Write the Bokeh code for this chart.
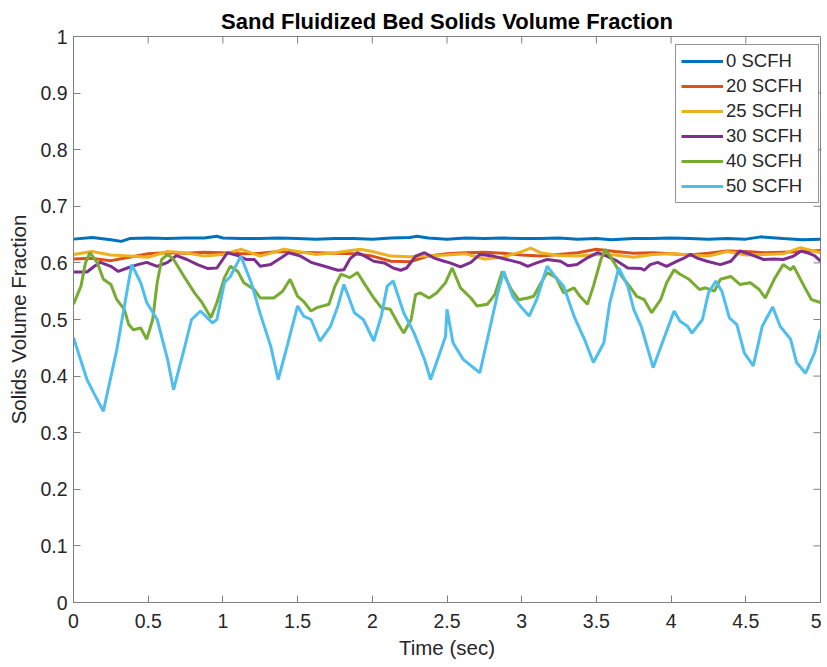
import math
from bokeh.plotting import figure
from bokeh.models import Range1d, FixedTicker, Legend, LegendItem
from bokeh.embed import file_html
from bokeh.resources import INLINE

# ---------------- data ----------------
t0 = [0.0, 0.125, 0.25, 0.32, 0.375, 0.5, 0.625, 0.75, 0.875, 0.96, 1.0, 1.125, 1.25, 1.375,
      1.5, 1.625, 1.75, 1.875, 2.0, 2.125, 2.25, 2.3, 2.375, 2.5, 2.625, 2.75, 2.875, 3.0,
      3.125, 3.25, 3.375, 3.5, 3.6, 3.75, 3.875, 4.0, 4.125, 4.25, 4.375, 4.5, 4.6, 4.75,
      4.875, 5.0]
v0 = [0.642, 0.645, 0.641, 0.638, 0.643, 0.644, 0.643, 0.644, 0.644, 0.647, 0.644, 0.643,
      0.643, 0.644, 0.643, 0.642, 0.643, 0.643, 0.642, 0.644, 0.645, 0.647, 0.644, 0.642,
      0.644, 0.643, 0.644, 0.643, 0.643, 0.644, 0.642, 0.643, 0.641, 0.643, 0.643, 0.644,
      0.643, 0.642, 0.643, 0.642, 0.646, 0.643, 0.641, 0.642]

t20 = [0.0, 0.125, 0.25, 0.375, 0.5, 0.625, 0.75, 0.875, 1.0, 1.125, 1.25, 1.375, 1.5,
       1.625, 1.75, 1.875, 2.0, 2.125, 2.25, 2.375, 2.5, 2.625, 2.75, 2.875, 3.0, 3.125,
       3.25, 3.375, 3.5, 3.625, 3.75, 3.875, 4.0, 4.125, 4.25, 4.375, 4.5, 4.625, 4.75,
       4.875, 5.0]
v20 = [0.607, 0.608, 0.604, 0.610, 0.616, 0.618, 0.617, 0.619, 0.618, 0.616, 0.617, 0.620,
       0.619, 0.618, 0.617, 0.616, 0.612, 0.603, 0.602, 0.612, 0.616, 0.618, 0.619, 0.617,
       0.614, 0.612, 0.615, 0.618, 0.624, 0.620, 0.617, 0.618, 0.616, 0.614, 0.617, 0.621,
       0.620, 0.618, 0.619, 0.620, 0.622]

t25 = [0.0, 0.125, 0.25, 0.375, 0.5, 0.625, 0.75, 0.875, 1.0, 1.125, 1.25, 1.41, 1.5,
       1.625, 1.75, 1.92, 2.0, 2.125, 2.25, 2.375, 2.5, 2.625, 2.75, 2.875, 3.0, 3.06,
       3.125, 3.25, 3.375, 3.5, 3.625, 3.75, 3.875, 4.0, 4.125, 4.25, 4.375, 4.5, 4.625,
       4.75, 4.866, 5.0]
v25 = [0.615, 0.620, 0.614, 0.612, 0.610, 0.620, 0.618, 0.612, 0.615, 0.624, 0.612, 0.624,
       0.620, 0.615, 0.618, 0.624, 0.620, 0.612, 0.611, 0.612, 0.614, 0.616, 0.607, 0.610,
       0.620, 0.626, 0.618, 0.613, 0.612, 0.615, 0.614, 0.610, 0.615, 0.616, 0.614, 0.612,
       0.620, 0.614, 0.615, 0.616, 0.627, 0.618]

t30 = [0.0, 0.09, 0.14, 0.18, 0.25, 0.30, 0.36, 0.43, 0.49, 0.56, 0.63, 0.69, 0.76, 0.83,
       0.90, 0.96, 1.03, 1.10, 1.16, 1.21, 1.25, 1.32, 1.39, 1.44, 1.52, 1.59, 1.68, 1.77,
       1.81, 1.85, 1.90, 1.95, 2.01, 2.08, 2.14, 2.19, 2.23, 2.29, 2.35, 2.41, 2.48, 2.52,
       2.59, 2.66, 2.72, 2.81, 2.90, 2.99, 3.04, 3.10, 3.17, 3.26, 3.31, 3.37, 3.44, 3.51,
       3.57, 3.64, 3.71, 3.80, 3.82, 3.86, 3.91, 3.97, 4.04, 4.09, 4.13, 4.17, 4.24, 4.33,
       4.40, 4.46, 4.53, 4.62, 4.69, 4.75, 4.82, 4.87, 4.91, 4.96, 5.0]
v30 = [0.584, 0.584, 0.594, 0.601, 0.594, 0.585, 0.591, 0.597, 0.601, 0.594, 0.601, 0.613,
       0.606, 0.597, 0.590, 0.591, 0.618, 0.613, 0.606, 0.606, 0.594, 0.597, 0.609, 0.618,
       0.612, 0.601, 0.594, 0.587, 0.588, 0.607, 0.618, 0.612, 0.603, 0.600, 0.591, 0.587,
       0.591, 0.612, 0.618, 0.609, 0.603, 0.600, 0.593, 0.601, 0.615, 0.612, 0.606, 0.600,
       0.594, 0.600, 0.606, 0.603, 0.595, 0.597, 0.609, 0.618, 0.612, 0.603, 0.591, 0.590,
       0.587, 0.597, 0.601, 0.594, 0.603, 0.609, 0.615, 0.609, 0.603, 0.597, 0.603, 0.621,
       0.615, 0.606, 0.607, 0.606, 0.612, 0.621, 0.618, 0.613, 0.603]

t40 = [0.0, 0.05, 0.08, 0.11, 0.16, 0.20, 0.25, 0.29, 0.34, 0.37, 0.40, 0.45, 0.49, 0.53,
       0.56, 0.59, 0.63, 0.67, 0.74, 0.81, 0.86, 0.92, 0.96, 1.01, 1.05, 1.10, 1.14, 1.21,
       1.25, 1.34, 1.40, 1.45, 1.50, 1.54, 1.59, 1.63, 1.71, 1.75, 1.79, 1.85, 1.90, 1.95,
       2.01, 2.06, 2.12, 2.17, 2.21, 2.26, 2.29, 2.32, 2.38, 2.43, 2.49, 2.535, 2.59, 2.66,
       2.70, 2.77, 2.82, 2.87, 2.93, 2.98, 3.04, 3.08, 3.13, 3.17, 3.23, 3.28, 3.35, 3.39,
       3.44, 3.48, 3.53, 3.56, 3.62, 3.67, 3.73, 3.77, 3.82, 3.87, 3.93, 3.97, 4.02, 4.06,
       4.12, 4.19, 4.23, 4.29, 4.33, 4.40, 4.46, 4.53, 4.59, 4.63, 4.69, 4.75, 4.80, 4.82,
       4.89, 4.94, 5.0]
v40 = [0.527, 0.559, 0.600, 0.618, 0.600, 0.571, 0.562, 0.535, 0.518, 0.491, 0.482, 0.485,
       0.465, 0.500, 0.565, 0.606, 0.615, 0.606, 0.576, 0.547, 0.530, 0.503, 0.530, 0.574,
       0.594, 0.585, 0.565, 0.553, 0.538, 0.538, 0.550, 0.571, 0.541, 0.532, 0.515, 0.521,
       0.527, 0.559, 0.580, 0.574, 0.583, 0.562, 0.538, 0.521, 0.518, 0.494, 0.476, 0.500,
       0.544, 0.547, 0.538, 0.547, 0.565, 0.591, 0.556, 0.538, 0.524, 0.527, 0.544, 0.585,
       0.553, 0.535, 0.538, 0.541, 0.565, 0.583, 0.574, 0.547, 0.556, 0.541, 0.527, 0.559,
       0.606, 0.624, 0.600, 0.576, 0.556, 0.541, 0.535, 0.512, 0.535, 0.565, 0.588, 0.580,
       0.571, 0.553, 0.556, 0.550, 0.571, 0.576, 0.562, 0.565, 0.553, 0.538, 0.571, 0.597,
       0.588, 0.594, 0.559, 0.535, 0.530]

t50 = [0.0, 0.09, 0.136, 0.20, 0.29, 0.36, 0.39, 0.45, 0.49, 0.56, 0.63, 0.67, 0.74, 0.79,
       0.85, 0.93, 0.96, 1.01, 1.05, 1.12, 1.19, 1.25, 1.32, 1.37, 1.43, 1.50, 1.54, 1.59,
       1.65, 1.72, 1.77, 1.81, 1.84, 1.88, 1.94, 2.01, 2.06, 2.10, 2.14, 2.21, 2.28, 2.35,
       2.39, 2.46, 2.49, 2.50, 2.54, 2.61, 2.72, 2.79, 2.84, 2.88, 2.94, 2.99, 3.05, 3.10,
       3.17, 3.23, 3.28, 3.35, 3.42, 3.48, 3.55, 3.59, 3.65, 3.71, 3.75, 3.80, 3.82, 3.88,
       3.95, 4.02, 4.06, 4.11, 4.14, 4.21, 4.25, 4.30, 4.34, 4.39, 4.44, 4.49, 4.55, 4.61,
       4.68, 4.73, 4.80, 4.84, 4.90, 4.96, 5.0]
v50 = [0.468, 0.394, 0.370, 0.338, 0.447, 0.553, 0.597, 0.565, 0.530, 0.500, 0.429, 0.376,
       0.447, 0.500, 0.515, 0.494, 0.500, 0.565, 0.576, 0.612, 0.565, 0.510, 0.453, 0.394,
       0.453, 0.524, 0.506, 0.500, 0.462, 0.488, 0.524, 0.562, 0.541, 0.512, 0.500, 0.462,
       0.506, 0.559, 0.568, 0.512, 0.476, 0.429, 0.394, 0.447, 0.470, 0.518, 0.459, 0.429,
       0.406, 0.488, 0.547, 0.585, 0.541, 0.524, 0.506, 0.535, 0.594, 0.574, 0.559, 0.506,
       0.465, 0.424, 0.459, 0.530, 0.591, 0.559, 0.518, 0.488, 0.470, 0.415, 0.465, 0.515,
       0.497, 0.488, 0.476, 0.500, 0.547, 0.568, 0.550, 0.503, 0.491, 0.441, 0.418, 0.488,
       0.522, 0.488, 0.465, 0.424, 0.405, 0.441, 0.482]

series_labels = ["0 SCFH", "20 SCFH", "25 SCFH", "30 SCFH", "40 SCFH", "50 SCFH"]
series_colors = ["#0072BD", "#D95319", "#EDB120", "#7E2F8E", "#77AC30", "#4DBEEE"]
series_t = [t0, t20, t25, t30, t40, t50]
series_v = [v0, v20, v25, v30, v40, v50]

x_ticks = [0, 0.5, 1, 1.5, 2, 2.5, 3, 3.5, 4, 4.5, 5]
y_ticks = [0, 0.1, 0.2, 0.3, 0.4, 0.5, 0.6, 0.7, 0.8, 0.9, 1]
x_tick_labels = {0: "0", 0.5: "0.5", 1: "1", 1.5: "1.5", 2: "2", 2.5: "2.5", 3: "3",
                 3.5: "3.5", 4: "4", 4.5: "4.5", 5: "5"}
y_tick_labels = {0: "0", 0.1: "0.1", 0.2: "0.2", 0.3: "0.3", 0.4: "0.4", 0.5: "0.5",
                 0.6: "0.6", 0.7: "0.7", 0.8: "0.8", 0.9: "0.9", 1: "1"}

FONT = "Liberation Sans"
AX = "#808080"
TXT = "#262626"

xr = Range1d(0, 5)
yr = Range1d(0, 1)
p = figure(width=821, height=663, output_backend="svg", toolbar_location=None,
           x_range=xr, y_range=yr,
           min_border_left=73, min_border_right=1, min_border_top=36, min_border_bottom=61)

p.title.text = "Sand Fluidized Bed Solids Volume Fraction"
p.title.align = "center"
p.title.text_font = FONT
p.title.text_font_size = "22px"
p.title.text_font_style = "bold"
p.title.text_color = "#000000"
p.title.standoff = 5

p.grid.visible = False
p.outline_line_color = AX
p.outline_line_width = 1
p.background_fill_color = "white"
p.border_fill_color = "white"

for ax, ticks, labels in [(p.xaxis[0], x_ticks, x_tick_labels), (p.yaxis[0], y_ticks, y_tick_labels)]:
    ax.ticker = FixedTicker(ticks=ticks)
    ax.major_label_overrides = labels
    ax.axis_line_color = AX
    ax.major_tick_line_color = AX
    ax.major_tick_in = 7
    ax.major_tick_out = 0
    ax.minor_tick_line_color = None
    ax.major_label_text_font = FONT
    ax.major_label_text_font_size = "19.5px"
    ax.major_label_text_color = TXT
    ax.axis_label_text_font = FONT
    ax.axis_label_text_font_size = "20.5px"
    ax.axis_label_text_font_style = "normal"
    ax.axis_label_text_color = TXT

p.xaxis.axis_label = "Time (sec)"
p.yaxis.axis_label = "Solids Volume Fraction"
p.xaxis.major_label_standoff = 11
p.yaxis.major_label_standoff = 6
p.xaxis.axis_label_standoff = 5
p.yaxis.axis_label_standoff = 7

# box ticks on the top and right edges (inward), at the same tick values
p.ray(x=x_ticks, y=[yr.end] * len(x_ticks), length=7, length_units="screen",
      angle=-math.pi / 2, line_color=AX, line_width=1)
p.ray(x=[xr.end] * len(y_ticks), y=y_ticks, length=7, length_units="screen",
      angle=math.pi, line_color=AX, line_width=1)

items = []
for lab, col, tt, vv in zip(series_labels, series_colors, series_t, series_v):
    r = p.line(tt, vv, line_color=col, line_width=3)
    items.append(LegendItem(label=lab, renderers=[r]))

legend = Legend(items=items, location=(602, 399))
legend.label_text_font = FONT
legend.label_text_font_size = "18.5px"
legend.label_text_color = TXT
legend.glyph_width = 42
legend.glyph_height = 22
legend.label_height = 22
legend.label_width = 87
legend.label_standoff = 3
legend.spacing = 3
legend.padding = 5
legend.margin = 0
legend.border_line_color = "#262626"
legend.border_line_width = 1
legend.background_fill_color = "white"
legend.background_fill_alpha = 1
p.add_layout(legend, "center")

open("out.html", "w").write(file_html(p, INLINE))
